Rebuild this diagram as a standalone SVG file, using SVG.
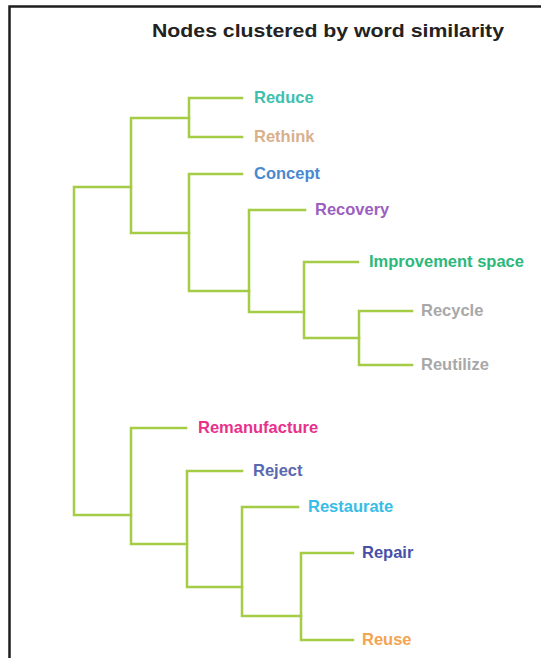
<svg xmlns="http://www.w3.org/2000/svg" width="541" height="658" viewBox="0 0 541 658">
  <style>
    .frame { stroke: #1e1e1e; stroke-width: 2.5; fill: none; }
    .title { font-family: "Liberation Sans", Arial, sans-serif; font-weight: bold; font-size: 19px; fill: #222222; }
    .edge { stroke: #a4cc44; stroke-width: 2.5; fill: none; stroke-linecap: square; }
    .label { font-family: "Liberation Sans", Arial, sans-serif; font-weight: bold; font-size: 16.5px; }
  </style>
  <rect width="541" height="658" fill="#ffffff"/>
  <!-- page frame: top and left rules only -->
  <path class="frame" d="M9.5 658 V6.5 H541"/>
  <text class="title" x="152" y="37" textLength="352" lengthAdjust="spacingAndGlyphs">Nodes clustered by word similarity</text>

  <!-- dendrogram branches -->
  <g id="connectors">
    <!-- root -->
    <path class="edge" d="M131 187 H74 V515 H131"/>
    <!-- upper cluster -->
    <path class="edge" d="M189 118 H131 V233 H189"/>
    <path class="edge" d="M242 98 H189 V137 H242"/>
    <path class="edge" d="M242 174 H189 V291 H249"/>
    <path class="edge" d="M305 210 H249 V312 H304"/>
    <path class="edge" d="M358 262 H304 V338 H359"/>
    <path class="edge" d="M412 311 H359 V365 H412"/>
    <!-- lower cluster -->
    <path class="edge" d="M186 428 H131 V544 H187"/>
    <path class="edge" d="M242 471 H187 V587 H242"/>
    <path class="edge" d="M298 507 H242 V616 H301"/>
    <path class="edge" d="M353 553 H301 V640 H353"/>
  </g>

  <g id="reduce"><text class="label" x="254" y="103" fill="#3fbfb0">Reduce</text></g>
  <g id="rethink"><text class="label" x="254" y="142" fill="#d9b08c">Rethink</text></g>
  <g id="concept"><text class="label" x="254" y="179" fill="#4a88d0">Concept</text></g>
  <g id="recovery"><text class="label" x="315" y="215" fill="#9b5fc0">Recovery</text></g>
  <g id="improvement-space"><text class="label" x="369" y="267" fill="#2cb87a">Improvement space</text></g>
  <g id="recycle"><text class="label" x="421" y="316" fill="#a8a8a8">Recycle</text></g>
  <g id="reutilize"><text class="label" x="421" y="370" fill="#a8a8a8">Reutilize</text></g>
  <g id="remanufacture"><text class="label" x="198" y="433" fill="#e8308c">Remanufacture</text></g>
  <g id="reject"><text class="label" x="253" y="476" fill="#5a68b0">Reject</text></g>
  <g id="restaurate"><text class="label" x="308" y="512" fill="#38bce8">Restaurate</text></g>
  <g id="repair"><text class="label" x="362" y="558" fill="#4850a8">Repair</text></g>
  <g id="reuse"><text class="label" x="362" y="645" fill="#f4a450">Reuse</text></g>
</svg>
